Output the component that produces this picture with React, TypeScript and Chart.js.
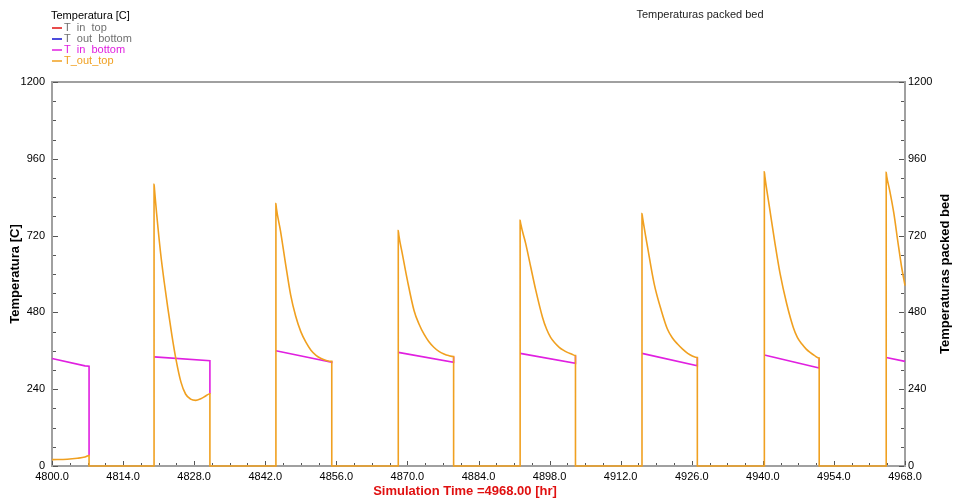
import React, { useEffect, useRef } from "react";
import { Chart, registerables } from "chart.js";
Chart.register(...registerables);

// ---- axis definitions ----
const X_MIN = 4800;
const X_MAX = 4968;
const X_STEP = 14;
const Y_MIN = 0;
const Y_MAX = 1200;
const Y_STEP = 240;

// ---- legend / titles ----
const legendTitle = "Temperatura [C]";
const seriesNames = ["T_in_top", "T_out_bottom", "T_in_bottom", "T_out_top"];
const legendLabels = ["T  in  top", "T  out  bottom", "T  in  bottom", "T_out_top"];
const seriesColors = ["#e01010", "#1010d0", "#e020e0", "#f0a020"];
const legendTextColors = ["#707070", "#707070", "#e020e0", "#f0a020"];
const chartTitle = "Temperaturas packed bed";
const leftAxisTitle = "Temperatura [C]";
const rightAxisTitle = "Temperaturas packed bed";
const bottomTitle = "Simulation Time =4968.00 [hr]";

// ---- data: [hour, °C] ----
// T_out_top, one array per discharge period (0 °C in between)
const outTop1 = [[4800, 20], [4803, 21], [4805, 24], [4806.5, 28], [4807.3, 33]];
const outTop2 = [[4820.1, 880], [4820.2, 862], [4820.6, 790], [4821.4, 664], [4822.1, 575], [4822.8, 495], [4823.6, 410], [4824.4, 335], [4825.4, 262], [4826.3, 225], [4827.3, 209], [4828.3, 205], [4829.3, 210], [4830.2, 218], [4831.1, 226]];
const outTop3 = [[4844.1, 820], [4844.2, 805], [4845, 735], [4846, 632], [4847, 535], [4848, 468], [4849, 420], [4850, 387], [4851, 362], [4852, 346], [4853, 336], [4854, 330], [4855.1, 327]];
const outTop4 = [[4868.2, 736], [4868.3, 722], [4869, 663], [4870, 580], [4871.3, 486], [4872.3, 443], [4873.3, 411], [4874.2, 389], [4875.2, 371], [4876.2, 358], [4877.2, 350], [4878.1, 345], [4879.1, 342]];
const outTop5 = [[4892.2, 768], [4892.3, 758], [4893.3, 695], [4894.3, 621], [4895.3, 548], [4896.6, 465], [4897.4, 428], [4898.2, 402], [4899, 385], [4899.9, 371], [4900.7, 362], [4901.5, 355], [4902.3, 350], [4903.1, 345]];
const outTop6 = [[4916.2, 789], [4916.3, 778], [4917.3, 684], [4918.6, 569], [4920, 486], [4921.2, 428], [4922.2, 400], [4923.2, 381], [4924.2, 365], [4925.2, 352], [4926.1, 344], [4927.1, 339]];
const outTop7 = [[4940.3, 919], [4940.4, 905], [4941.4, 799], [4942.4, 695], [4943.4, 601], [4944.7, 507], [4946, 433], [4946.8, 402], [4947.7, 381], [4948.5, 366], [4949.3, 355], [4950.2, 345], [4951.1, 337]];
const outTop8 = [[4964.3, 918], [4964.4, 905], [4965, 860], [4965.8, 790], [4966.6, 700], [4967.3, 625], [4968, 564]];

// T_in_bottom, one array per discharge period (drops at the end of each)
const inBottom1 = [[4800, 336], [4806.5, 313], [4807.3, 312]];
const inBottom2 = [[4820.1, 341], [4831.1, 329]];
const inBottom3 = [[4844.1, 360], [4855.1, 324]];
const inBottom4 = [[4868.2, 355], [4879.1, 324]];
const inBottom5 = [[4892.2, 352], [4903.1, 321]];
const inBottom6 = [[4916.2, 352], [4927.1, 313]];
const inBottom7 = [[4940.3, 347], [4951.1, 306]];
const inBottom8 = [[4964.3, 339], [4968, 327]];

// T_in_top and T_out_bottom have no visible values in this window
const inTop: number[][] = [];
const outBottom: number[][] = [];

const outTopCycles = [outTop1, outTop2, outTop3, outTop4, outTop5, outTop6, outTop7, outTop8];
const inBottomCycles = [inBottom1, inBottom2, inBottom3, inBottom4, inBottom5, inBottom6, inBottom7, inBottom8];

// T_out_top: join the periods; between them the value is 0
function joinOutTop(cycles: number[][][]) {
  const pts: { x: number; y: number | null }[] = [];
  cycles.forEach((c, i) => {
    if (i > 0) pts.push({ x: c[0][0], y: 0 });
    c.forEach(([x, y]) => pts.push({ x, y }));
    if (i < cycles.length - 1) pts.push({ x: c[c.length - 1][0], y: 0 });
  });
  return pts;
}
// T_in_bottom: each period ends with a drop (down to where T_out_top hides it), then a gap
function joinInBottom(cycles: number[][][], under: number[][][]) {
  const pts: { x: number; y: number | null }[] = [];
  cycles.forEach((c, i) => {
    c.forEach(([x, y]) => pts.push({ x, y }));
    if (i < cycles.length - 1) {
      const last = c[c.length - 1];
      const u = under[i][under[i].length - 1];
      pts.push({ x: last[0], y: u[1] });
      pts.push({ x: last[0], y: null });
    }
  });
  return pts;
}
const toPts = (a: number[][]) => a.map(([x, y]) => ({ x, y }));

const FONT = "Arial, 'Liberation Sans', sans-serif";
const AXIS_GRAY = "#a0a0a0";

const decorPlugin = {
  id: "decor",
  beforeDatasetsDraw(chart: any) {
    const ctx = chart.ctx;
    const { left, right, top, bottom } = chart.chartArea;
    ctx.save();
    ctx.strokeStyle = AXIS_GRAY;
    ctx.lineWidth = 2;
    ctx.beginPath();
    ctx.moveTo(left - 1, top);
    ctx.lineTo(right + 1, top);
    ctx.stroke();
    ctx.strokeStyle = "#555";
    ctx.lineWidth = 1;
    const xs = chart.scales.x;
    for (let v = X_MIN; v <= X_MAX + 0.001; v += X_STEP / 4) {
      const px = Math.round(xs.getPixelForValue(v)) + 0.5;
      const major = Math.abs((v - X_MIN) % X_STEP) < 0.01;
      ctx.beginPath();
      ctx.moveTo(px, bottom - 1);
      ctx.lineTo(px, bottom - (major ? 5 : 3));
      ctx.stroke();
    }
    const ys = chart.scales.y;
    for (let v = Y_MIN; v <= Y_MAX + 0.001; v += Y_STEP / 4) {
      const py = Math.round(ys.getPixelForValue(v)) + 0.5;
      const major = Math.abs(v % Y_STEP) < 0.01;
      const len = major ? 5 : 3;
      ctx.beginPath();
      ctx.moveTo(left + 1, py);
      ctx.lineTo(left + 1 + len, py);
      ctx.moveTo(right - 1, py);
      ctx.lineTo(right - 1 - len, py);
      ctx.stroke();
    }
    ctx.restore();
  },
  afterDraw(chart: any) {
    const ctx = chart.ctx;
    const { top, bottom } = chart.chartArea;
    ctx.save();
    ctx.textBaseline = "middle";
    ctx.font = `11px ${FONT}`;
    ctx.fillStyle = "#000";
    ctx.textAlign = "left";
    ctx.fillText(legendTitle, 51, 16);
    const rowY = [28, 39, 50, 61];
    legendLabels.forEach((name, i) => {
      const y = rowY[i];
      ctx.strokeStyle = seriesColors[i];
      ctx.lineWidth = 1.5;
      ctx.beginPath();
      ctx.moveTo(52, y);
      ctx.lineTo(62, y);
      ctx.stroke();
      ctx.fillStyle = legendTextColors[i];
      ctx.fillText(name, 64, y);
    });
    ctx.fillStyle = "#222";
    ctx.textAlign = "center";
    ctx.fillText(chartTitle, 700, 15);
    ctx.font = `bold 13px ${FONT}`;
    ctx.fillStyle = "#000";
    const midY = (top + bottom) / 2;
    ctx.save();
    ctx.translate(15, midY);
    ctx.rotate(-Math.PI / 2);
    ctx.fillText(leftAxisTitle, 0, 0);
    ctx.restore();
    ctx.save();
    ctx.translate(945, midY);
    ctx.rotate(-Math.PI / 2);
    ctx.fillText(rightAxisTitle, 0, 0);
    ctx.restore();
    ctx.fillStyle = "#e01010";
    ctx.fillText(bottomTitle, 465, 491);
    ctx.restore();
  },
};

export default function App() {
  const ref = useRef<HTMLCanvasElement>(null);
  useEffect(() => {
    if (!ref.current) return;
    const ds = (label: string, data: any[], color: string, order: number, smooth: boolean) => ({
      label,
      data,
      borderColor: color,
      backgroundColor: color,
      borderWidth: 1.6,
      pointRadius: 0,
      tension: 0,
      cubicInterpolationMode: smooth ? "monotone" : "default",
      spanGaps: false,
      fill: false,
      clip: false as any,
      order,
      yAxisID: "y",
    });
    const chart = new Chart(ref.current, {
      type: "line",
      data: {
        datasets: [
          ds(seriesNames[0], toPts(inTop), seriesColors[0], 4, false),
          ds(seriesNames[1], toPts(outBottom), seriesColors[1], 3, false),
          ds(seriesNames[2], joinInBottom(inBottomCycles, outTopCycles), seriesColors[2], 2, false),
          ds(seriesNames[3], joinOutTop(outTopCycles), seriesColors[3], 1, true),
        ],
      },
      options: {
        animation: false,
        responsive: false,
        maintainAspectRatio: false,
        parsing: false as any,
        layout: { padding: { top: 82, left: 0, right: 0, bottom: 0 } },
        plugins: { legend: { display: false }, tooltip: { enabled: false }, title: { display: false } },
        scales: {
          x: {
            type: "linear",
            min: X_MIN,
            max: X_MAX,
            afterFit: (s: any) => { s.height = 34; },
            ticks: {
              stepSize: X_STEP,
              autoSkip: false,
              maxRotation: 0,
              padding: 4,
              color: "#000",
              font: { family: FONT, size: 11 },
              callback: (v: any) => Number(v).toFixed(1),
            },
            grid: { display: false, drawTicks: false },
            border: { display: true, color: AXIS_GRAY, width: 2 },
          },
          y: {
            type: "linear",
            position: "left",
            min: Y_MIN,
            max: Y_MAX,
            afterFit: (s: any) => { s.width = 52; },
            ticks: {
              stepSize: Y_STEP,
              padding: 7,
              color: "#000",
              font: { family: FONT, size: 11 },
              callback: (v: any) => String(v),
            },
            grid: { display: false, drawTicks: false },
            border: { display: true, color: AXIS_GRAY, width: 2 },
          },
          y2: {
            type: "linear",
            position: "right",
            display: true,
            min: Y_MIN,
            max: Y_MAX,
            afterFit: (s: any) => { s.width = 50; },
            ticks: {
              stepSize: Y_STEP,
              padding: 3,
              color: "#000",
              font: { family: FONT, size: 11 },
              callback: (v: any) => String(v),
            },
            grid: { display: false, drawTicks: false },
            border: { display: true, color: AXIS_GRAY, width: 2 },
          },
        },
      } as any,
      plugins: [decorPlugin],
    });
    return () => chart.destroy();
  }, []);
  return (
    <div style={{ position: "absolute", left: 0, top: 0, width: 955, height: 500, background: "#fff" }}>
      <canvas ref={ref} width={955} height={500} style={{ width: 955, height: 500 }} />
    </div>
  );
}
